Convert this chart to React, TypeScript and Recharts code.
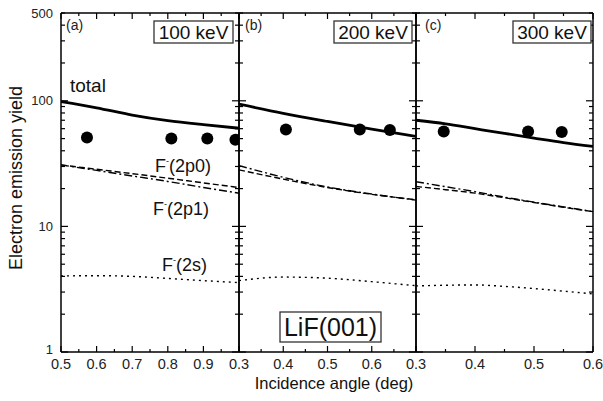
import React from 'react';
import { ComposedChart, Line, Scatter, XAxis, YAxis } from 'recharts';

const FONT = '"Liberation Sans", Arial, Helvetica, sans-serif';
const W = 603;
const H = 401;

// shared log y axis
const yTicks = [1, 2, 3, 4, 5, 6, 7, 8, 9, 10, 20, 30, 40, 50, 60, 70, 80, 90, 100, 200, 300, 400, 500];
const yMajor = [1, 10, 100];
const yLabels = [1, 10, 100, 500];

// (a) 100 keV
const ticksA = [0.5, 0.55, 0.6, 0.65, 0.7, 0.75, 0.8, 0.85, 0.9, 0.95, 1.0];
const labelsA = [0.5, 0.6, 0.7, 0.8, 0.9];
const anglesA = [0.5, 0.6, 0.7, 0.8, 0.9, 1.0];
const totalA = [98.5, 88, 77, 69.5, 64.5, 60.5];
const p0A = [30.9, 28.5, 26.3, 24.2, 22.2, 20.4];
const p1A = [30.9, 27.9, 25.2, 22.8, 20.4, 18.4];
const sA = [4.03, 4.05, 4.0, 3.85, 3.7, 3.57];
const measAngleA = [0.573, 0.81, 0.911, 0.99];
const measYieldA = [51, 50, 50, 49];

// (b) 200 keV
const ticksB = [0.3, 0.35, 0.4, 0.45, 0.5, 0.55, 0.6, 0.65, 0.7];
const labelsB = [0.3, 0.4, 0.5, 0.6];
const anglesB = [0.3, 0.4, 0.5, 0.6, 0.7];
const totalB = [94, 79.5, 68.5, 59.5, 52];
const p0B = [28.2, 23.8, 20.4, 18.0, 16.3];
const p1B = [30.5, 24.6, 20.6, 18.1, 16.2];
const sB = [3.7, 3.95, 3.87, 3.63, 3.37];
const measAngleB = [0.406, 0.573, 0.641];
const measYieldB = [59, 59, 58.5];

// (c) 300 keV
const ticksC = [0.3, 0.35, 0.4, 0.45, 0.5, 0.55, 0.6];
const labelsC = [0.3, 0.4, 0.5, 0.6];
const anglesC = [0.3, 0.35, 0.4, 0.45, 0.5, 0.55, 0.6];
const totalC = [70, 65.5, 60, 55, 50.5, 46.5, 43.3];
const p0C = [20.8, 19.6, 18.4, 16.9, 15.5, 14.2, 13.1];
const p1C = [22.7, 20.7, 18.9, 17.1, 15.6, 14.3, 13.1];
const sC = [3.36, 3.4, 3.42, 3.33, 3.2, 3.05, 2.9];
const measAngleC = [0.347, 0.49, 0.547];
const measYieldC = [57, 57, 56.5];

const pts = (xs: number[], ys: number[]) => xs.map((x, i) => ({ x, y: ys[i] }));
const has = (list: number[], v: number) => list.some((l) => Math.abs(l - v) < 1e-6);
const isTenth = (v: number) => Math.abs(v * 10 - Math.round(v * 10)) < 1e-6;

const STROKE = { stroke: '#000', strokeWidth: 1.5 };

function BottomTick({ x, y, payload, labels }: any) {
  const v = payload.value;
  const len = isTenth(v) ? 6 : 3;
  return (
    <g>
      <line x1={x} x2={x} y1={y} y2={y - len} stroke="#000" strokeWidth={1.2} />
      {has(labels, v) && (
        <text x={x} y={y + 17} textAnchor="middle" fontSize={14.5} fontFamily={FONT} fill="#222">
          {v.toFixed(1)}
        </text>
      )}
    </g>
  );
}

function TopTick({ x, y, payload }: any) {
  const len = isTenth(payload.value) ? 6 : 3;
  return <line x1={x} x2={x} y1={y} y2={y + len} stroke="#000" strokeWidth={1.2} />;
}

function LeftTick({ x, y, payload, showLabels }: any) {
  const v = payload.value;
  const len = yMajor.includes(v) ? 7 : 4;
  // the "1" sits in the corner next to the first x label, lift it a little
  const lift = v === 1 ? -3 : 0;
  return (
    <g>
      <line x1={x} x2={x + len} y1={y} y2={y} stroke="#000" strokeWidth={1.2} />
      {showLabels && yLabels.includes(v) && (
        <text x={x - 8} y={y + lift} dy="0.35em" textAnchor="end" fontSize={13} fontFamily={FONT} fill="#222">
          {v}
        </text>
      )}
    </g>
  );
}

function RightTick({ x, y, payload }: any) {
  const len = yMajor.includes(payload.value) ? 7 : 4;
  return <line x1={x} x2={x - len} y1={y} y2={y} stroke="#000" strokeWidth={1.2} />;
}

const Dot = (props: any) => <circle cx={props.cx} cy={props.cy} r={6} fill="#000" />;

type PanelProps = {
  left: number;
  right: number;
  domain: [number, number];
  ticks: number[];
  labels: number[];
  angles: number[];
  total: number[];
  p0: number[];
  p1: number[];
  s: number[];
  measAngle: number[];
  measYield: number[];
  showY?: boolean;
};

function Panel(p: PanelProps) {
  return (
    <div style={{ position: 'absolute', left: 0, top: 0 }}>
      <ComposedChart
        width={W}
        height={H}
        margin={{ top: 3, bottom: 29, left: p.left - 20, right: W - p.right - 10 }}
      >
        <XAxis
          xAxisId="b" dataKey="x" type="number" domain={p.domain} ticks={p.ticks} interval={0}
          allowDataOverflow height={20} tickSize={0} tickMargin={0} tickLine={false}
          axisLine={STROKE} tick={<BottomTick labels={p.labels} />}
        />
        <XAxis
          xAxisId="t" orientation="top" dataKey="x" type="number" domain={p.domain} ticks={p.ticks}
          interval={0} allowDataOverflow height={10} tickSize={0} tickMargin={0} tickLine={false}
          axisLine={STROKE} tick={<TopTick />}
        />
        <YAxis
          yAxisId="l" dataKey="y" type="number" scale="log" domain={[1, 500]} ticks={yTicks}
          interval={0} allowDataOverflow width={20} tickSize={0} tickMargin={0} tickLine={false}
          axisLine={STROKE} tick={<LeftTick showLabels={p.showY} />}
        />
        <YAxis
          yAxisId="r" orientation="right" dataKey="y" type="number" scale="log" domain={[1, 500]}
          ticks={yTicks} interval={0} allowDataOverflow width={10} tickSize={0} tickMargin={0}
          tickLine={false} axisLine={STROKE} tick={<RightTick />}
        />
        <Line xAxisId="b" yAxisId="l" data={pts(p.angles, p.s)} dataKey="y" type="monotone"
          stroke="#000" strokeWidth={1.4} strokeDasharray="2 4" dot={false} isAnimationActive={false} />
        <Line xAxisId="b" yAxisId="l" data={pts(p.angles, p.p1)} dataKey="y" type="monotone"
          stroke="#000" strokeWidth={1.4} strokeDasharray="8 3 2 3" dot={false} isAnimationActive={false} />
        <Line xAxisId="b" yAxisId="l" data={pts(p.angles, p.p0)} dataKey="y" type="monotone"
          stroke="#000" strokeWidth={1.4} strokeDasharray="6 3" dot={false} isAnimationActive={false} />
        <Line xAxisId="b" yAxisId="l" data={pts(p.angles, p.total)} dataKey="y" type="monotone"
          stroke="#000" strokeWidth={2.8} dot={false} isAnimationActive={false} />
        <Scatter xAxisId="b" yAxisId="l" data={pts(p.measAngle, p.measYield)} dataKey="y"
          shape={<Dot />} isAnimationActive={false} />
      </ComposedChart>
    </div>
  );
}

function FMinus({ x, y, label }: { x: number; y: number; label: string }) {
  return (
    <text x={x} y={y} fontSize={18} fontFamily={FONT} fill="#111">
      F<tspan dy={-8} fontSize={9}>-</tspan>
      <tspan dy={8}>{label}</tspan>
    </text>
  );
}

function Box({ x, y, w, h, text, size }: { x: number; y: number; w: number; h: number; text: string; size: number }) {
  return (
    <g>
      <rect x={x} y={y} width={w} height={h} fill="#fff" stroke="#333" strokeWidth={1.3} />
      <text x={x + w / 2} y={y + h / 2} dy="0.36em" textAnchor="middle" fontSize={size} fontFamily={FONT} fill="#111">
        {text}
      </text>
    </g>
  );
}

export default function App() {
  return (
    <div style={{ position: 'relative', width: W, height: H, background: '#fff' }}>
      <style>{'body{margin:0}'}</style>
      <Panel left={61} right={239} domain={[0.5, 1.0]} ticks={ticksA} labels={labelsA} angles={anglesA}
        total={totalA} p0={p0A} p1={p1A} s={sA} measAngle={measAngleA} measYield={measYieldA} showY />
      <Panel left={239} right={416} domain={[0.3, 0.7]} ticks={ticksB} labels={labelsB} angles={anglesB}
        total={totalB} p0={p0B} p1={p1B} s={sB} measAngle={measAngleB} measYield={measYieldB} />
      <Panel left={416} right={593} domain={[0.3, 0.6]} ticks={ticksC} labels={labelsC} angles={anglesC}
        total={totalC} p0={p0C} p1={p1C} s={sC} measAngle={measAngleC} measYield={measYieldC} />
      <svg width={W} height={H} style={{ position: 'absolute', left: 0, top: 0, pointerEvents: 'none' }}>
        <text x={66} y={30} fontSize={14} fontFamily={FONT} fill="#222">(a)</text>
        <text x={245} y={30} fontSize={14} fontFamily={FONT} fill="#222">(b)</text>
        <text x={425} y={30} fontSize={14} fontFamily={FONT} fill="#222">(c)</text>
        <Box x={154} y={21} w={79} h={22} text="100 keV" size={19} />
        <Box x={334} y={21} w={78} h={22} text="200 keV" size={19} />
        <Box x={513} y={21} w={78} h={22} text="300 keV" size={19} />
        <Box x={280} y={312} w={101} h={30} text="LiF(001)" size={25} />
        <text x={70} y={92} fontSize={19} fontFamily={FONT} fill="#111">total</text>
        <FMinus x={155} y={172} label="(2p0)" />
        <FMinus x={153} y={215} label="(2p1)" />
        <FMinus x={162} y={271} label="(2s)" />
        <text x={334} y={389} textAnchor="middle" fontSize={16.5} fontFamily={FONT} fill="#111">
          Incidence angle (deg)
        </text>
        <text x={22} y={178} transform="rotate(-90 22 178)" textAnchor="middle" fontSize={18} fontFamily={FONT} fill="#111">
          Electron emission yield
        </text>
      </svg>
    </div>
  );
}
